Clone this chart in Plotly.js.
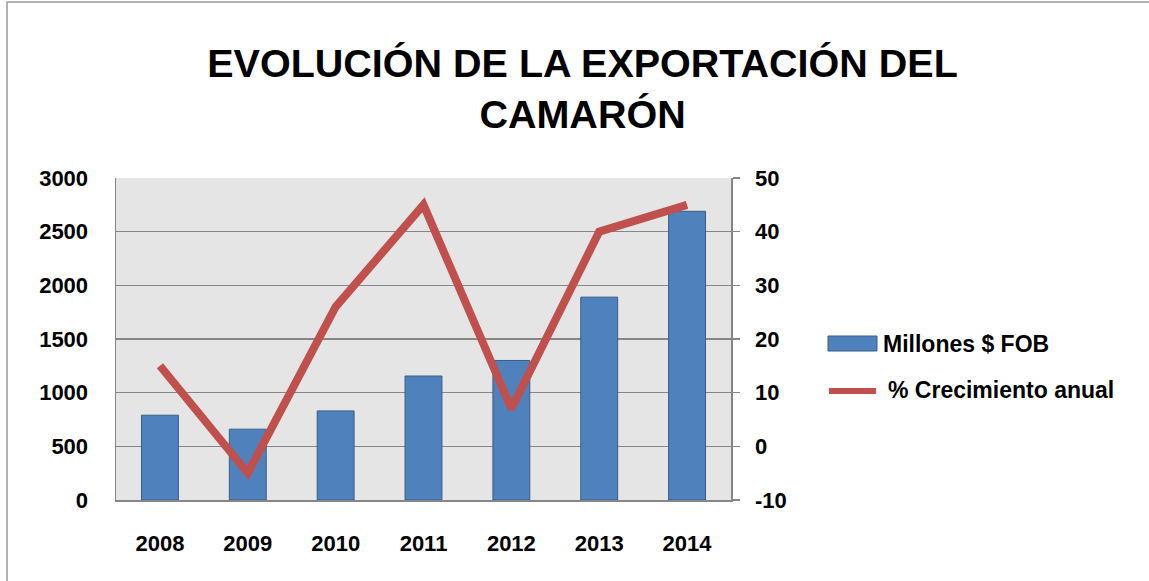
<!DOCTYPE html>
<html><head><meta charset="utf-8">
<script src="https://cdn.plot.ly/plotly-3.0.1.min.js"></script>
<style>html,body{margin:0;padding:0;background:#fff}#chart{width:1149px;height:581px}</style>
</head><body><div id="chart"></div>
<script>
const years = ['2008','2009','2010','2011','2012','2013','2014'];
const millonesFOB = [790, 660, 830, 1155, 1300, 1890, 2690];
const crecimiento = [15, -5, 26, 45, 7, 40, 45];
const leftTicks = [0, 500, 1000, 1500, 2000, 2500, 3000];
const rightTicks = [-10, 0, 10, 20, 30, 40, 50];
const seriesNames = ['Millones $ FOB', '% Crecimiento anual'];

const FONT = '"Liberation Sans", Arial, sans-serif';
const BLUE = '#4f81bd', BLUE_EDGE = '#385d8a', RED = '#c0504d';

const data = [
  {type:'bar', x:years, y:millonesFOB, name:seriesNames[0], yaxis:'y', showlegend:false,
   marker:{color:BLUE, line:{color:BLUE_EDGE, width:1}}},
  {type:'scatter', mode:'lines', x:years, y:crecimiento, name:seriesNames[1], yaxis:'y2', showlegend:false,
   line:{color:RED, width:8}}
];

// paper coordinate helpers for legend placement (plot area: x 116..731, y 178..500)
const px = v => (v - 116) / 615;
const py = v => (500 - v) / 322;

const layout = {
  width:1149, height:581,
  margin:{l:116, r:418, t:178, b:81},
  paper_bgcolor:'#ffffff', plot_bgcolor:'#e5e5e5',
  font:{family:FONT, color:'#000', size:22},
  title:{text:'<b>EVOLUCIÓN DE LA EXPORTACIÓN DEL<br>CAMARÓN</b>', font:{size:39.5, family:FONT, color:'#000'},
         x:0.507, xanchor:'center', y:0.868, yanchor:'middle', yref:'container'},
  bargap:0.58,
  showlegend:false,
  xaxis:{type:'category', tickvals:years, ticktext:years.map(y=>'<b>'+y+'</b>'),
         showgrid:false, showline:true, linecolor:'#868686', linewidth:1.5,
         ticks:'', tickfont:{size:22, family:FONT}, ticklabelstandoff:23},
  yaxis:{range:[0,3000], tickvals:leftTicks, ticktext:leftTicks.map(v=>'<b>'+v+'</b>'),
         showgrid:true, gridcolor:'#868686', gridwidth:1.5, showline:true, linecolor:'#868686', linewidth:1.5,
         ticks:'', tickfont:{size:22, family:FONT}, ticklabelstandoff:22, zeroline:false},
  yaxis2:{range:[-10,50], tickvals:rightTicks, ticktext:rightTicks.map(v=>'<b>'+v+'</b>'),
          overlaying:'y', side:'right', showgrid:false, showline:true, linecolor:'#868686', linewidth:1.5,
          ticks:'outside', ticklen:7, tickcolor:'#868686', tickwidth:1.5,
          tickfont:{size:22, family:FONT}, ticklabelstandoff:11, zeroline:false},
  shapes:[
    {type:'path', xref:'paper', yref:'paper', path:'M -0.1772,-0.3 L -0.1772,1.5466 L 1.72,1.5466',
     line:{color:'#9a9a9a', width:1.5}},
    {type:'rect', xref:'paper', yref:'paper', x0:px(828), x1:px(877), y0:py(351), y1:py(336),
     fillcolor:BLUE, line:{color:BLUE_EDGE, width:1}},
    {type:'line', xref:'paper', yref:'paper', x0:px(829), x1:px(876), y0:py(391), y1:py(391),
     line:{color:RED, width:6}}
  ],
  annotations:[
    {xref:'paper', yref:'paper', x:px(881), y:py(343.5), xanchor:'left', yanchor:'middle', showarrow:false,
     text:'<b>'+seriesNames[0]+'</b>', font:{size:23, family:FONT, color:'#000'}},
    {xref:'paper', yref:'paper', x:px(886), y:py(390), xanchor:'left', yanchor:'middle', showarrow:false,
     text:'<b>'+seriesNames[1]+'</b>', font:{size:23, family:FONT, color:'#000'}}
  ]
};

Plotly.newPlot('chart', data, layout, {displayModeBar:false, staticPlot:true});
</script></body></html>
